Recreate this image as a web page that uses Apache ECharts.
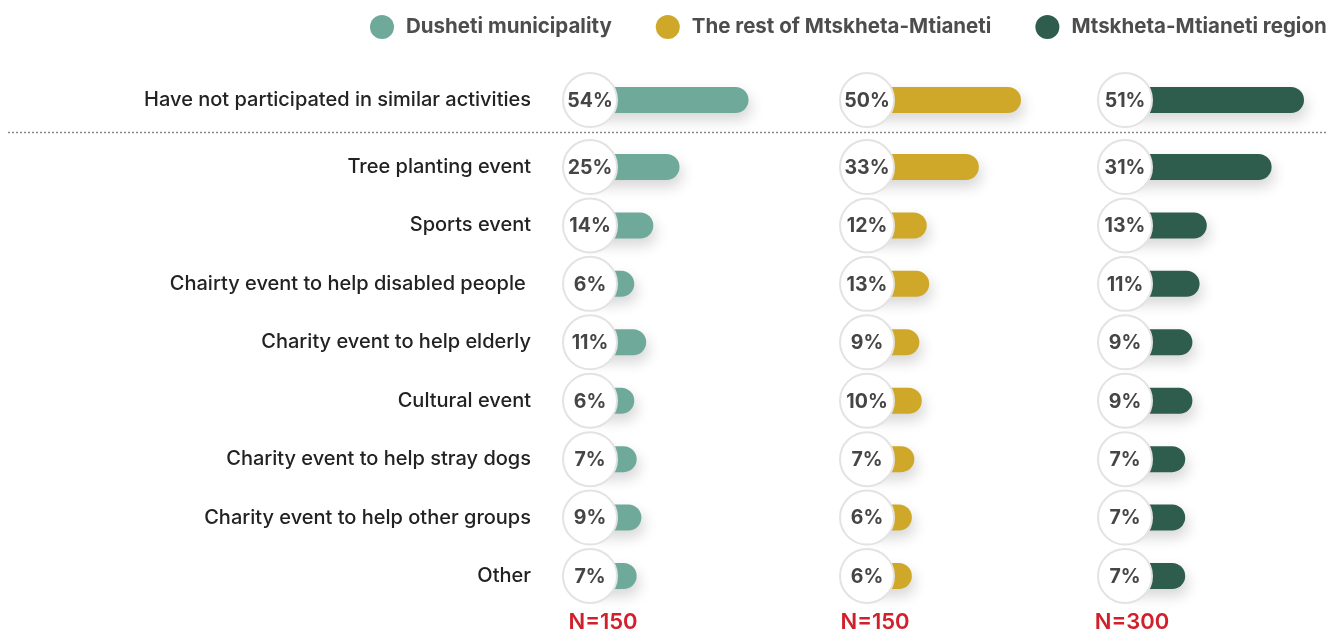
<!DOCTYPE html>
<html>
<head>
<meta charset="utf-8">
<script src="https://cdn.jsdelivr.net/npm/echarts@6/dist/echarts.min.js"></script>
<style>
  html, body { margin: 0; padding: 0; background: #fff; }
  #chart { width: 1328px; height: 632px; }
</style>
</head>
<body>
<div id="chart"></div>
<script>
// Participation in community activities, share of respondents (%)
const categories = [
  "Have not participated in similar activities",
  "Tree planting event",
  "Sports event",
  "Chairty event to help disabled people ",
  "Charity event to help elderly",
  "Cultural event",
  "Charity event to help stray dogs",
  "Charity event to help other groups",
  "Other"
];
const seriesNames = ["Dusheti municipality", "The rest of Mtskheta-Mtianeti", "Mtskheta-Mtianeti region"];
const dusheti = [54, 25, 14, 6, 11, 6, 7, 9, 7];
const restOfRegion = [50, 33, 12, 13, 9, 10, 7, 6, 6];
const wholeRegion = [51, 31, 13, 11, 9, 9, 7, 7, 7];
const sampleSizes = [150, 150, 300];

const colors = ["#6fa99a", "#cfa82a", "#2f5d4d"];
const FONT = "Inter, 'Noto Sans', sans-serif";

// Panel layout: x of value 0, pixels per percent, axis max, circle offset from value 0
const panels = [
  { left: 620, ppu: 2.38, max: 60, circleOffset: 30, values: dusheti },
  { left: 897, ppu: 2.48, max: 60, circleOffset: 30, values: restOfRegion },
  { left: 1160, ppu: 3.6, max: 40, circleOffset: 35, values: wholeRegion }
];

const topCats = categories.slice(0, 1);
const bottomCats = categories.slice(1);

const grids = [], xAxes = [], yAxes = [], series = [];

function makeRenderer(color, max, circleOffset) {
  return function (params, api) {
    const v = api.value(0);
    const idx = api.value(1);
    const zero = api.coord([0, idx]);
    const end = api.coord([Math.min(v, max), idx]);
    const cx = zero[0] - circleOffset;
    const cy = zero[1];
    return {
      type: 'group',
      children: [
        {
          type: 'rect',
          shape: { x: cx, y: cy - 13, width: end[0] - cx, height: 26, r: [0, 13, 13, 0] },
          style: { fill: color, shadowBlur: 14, shadowOffsetX: 3, shadowOffsetY: 7, shadowColor: 'rgba(0,0,0,0.16)' }
        },
        {
          type: 'circle',
          shape: { cx: cx, cy: cy, r: 27 },
          style: { fill: '#fff', stroke: '#e3e3e3', lineWidth: 2 }
        },
        {
          type: 'text',
          style: {
            text: v + '%', x: cx, y: cy + 1, align: 'center', verticalAlign: 'middle',
            fontFamily: FONT, fontSize: 19.5, fontWeight: 'bold', fill: '#454545'
          }
        }
      ]
    };
  };
}

panels.forEach(function (p, c) {
  const width = p.max * p.ppu;
  // top grid: single "not participated" row; bottom grid: the eight activities
  const parts = [
    { cats: topCats, vals: p.values.slice(0, 1), top: 72, height: 56 },
    { cats: bottomCats, vals: p.values.slice(1), top: 137.8, height: 467.4 }
  ];
  parts.forEach(function (part) {
    const gi = grids.length;
    grids.push({ left: p.left, top: part.top, width: width, height: part.height, containLabel: false });
    xAxes.push({ type: 'value', gridIndex: gi, min: 0, max: p.max, show: false });
    yAxes.push({
      type: 'category', gridIndex: gi, data: part.cats, inverse: true,
      axisLine: { show: false }, axisTick: { show: false }, splitLine: { show: false },
      axisLabel: {
        show: c === 0, margin: 89, fontFamily: FONT, fontSize: 20, fontWeight: 500, color: '#222'
      }
    });
    series.push({
      name: seriesNames[c],
      type: 'custom',
      xAxisIndex: gi, yAxisIndex: gi,
      itemStyle: { color: colors[c] },
      renderItem: makeRenderer(colors[c], p.max, p.circleOffset),
      data: part.vals.map(function (v, i) { return [v, i]; }),
      encode: { x: 0, y: 1 },
      clip: false
    });
  });
});

const nLabelX = [603, 875, 1132];
const graphic = [
  {
    type: 'line', shape: { x1: 8, y1: 132.5, x2: 1328, y2: 132.5 },
    style: { stroke: '#8a8a8a', lineWidth: 1.5, lineDash: [2, 2] }, silent: true
  }
].concat(sampleSizes.map(function (n, i) {
  return {
    type: 'text', x: nLabelX[i], y: 622,
    style: {
      text: 'N=' + n, align: 'center', verticalAlign: 'middle',
      fontFamily: FONT, fontSize: 22, fontWeight: 600, fill: '#d1202b'
    }
  };
}));

const chart = echarts.init(document.getElementById('chart'), null, { renderer: 'canvas' });
chart.setOption({
  animation: false,
  backgroundColor: '#fff',
  legend: {
    data: seriesNames,
    left: 365, top: 10, width: 1200,
    icon: 'circle', itemWidth: 24, itemHeight: 24, itemGap: 44,
    textStyle: { fontFamily: FONT, fontSize: 20.5, fontWeight: 'bold', color: '#4d4d4d', padding: [0, 0, 0, 7] }
  },
  grid: grids,
  xAxis: xAxes,
  yAxis: yAxes,
  series: series,
  graphic: graphic
});
</script>
</body>
</html>
